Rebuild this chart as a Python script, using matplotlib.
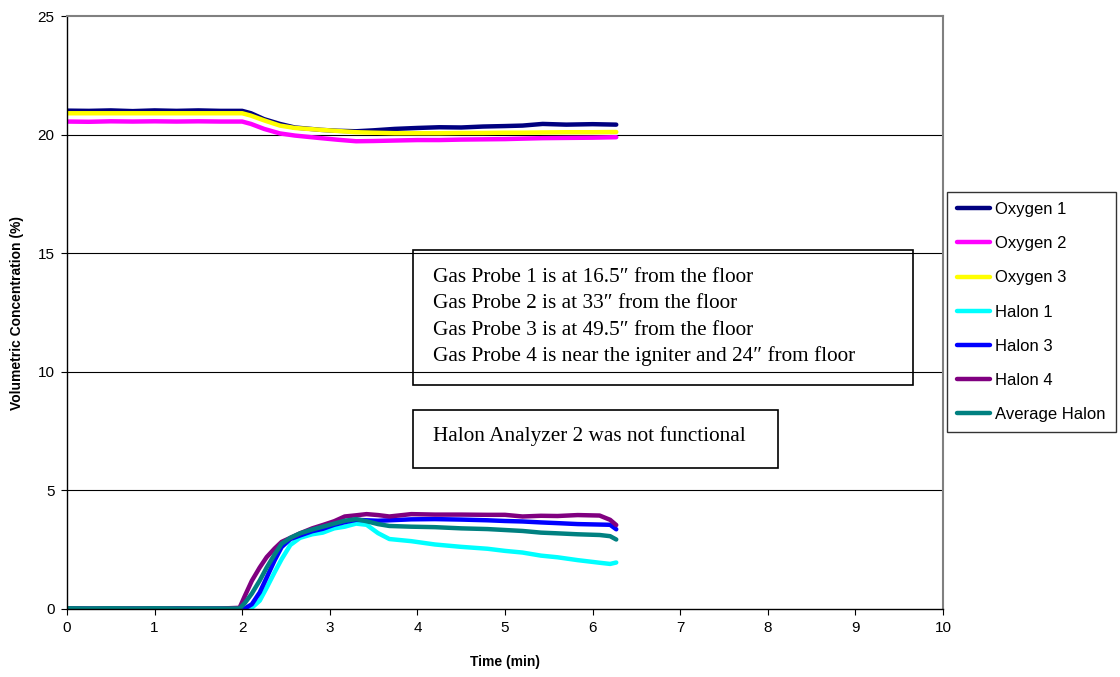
import matplotlib
matplotlib.use("Agg")
import matplotlib.pyplot as plt

# --- data (time in min, concentration in %) --------------------------------
t_o2 = [0.0, 0.25, 0.5, 0.75, 1.0, 1.25, 1.5, 1.75, 2.0, 2.1, 2.25, 2.43, 2.6,
        2.9, 3.1, 3.3, 3.5, 3.74, 4.0, 4.25, 4.5, 4.75, 5.0, 5.2, 5.43, 5.7,
        6.0, 6.27]
oxygen1 = [21.01, 21.0, 21.02, 20.99, 21.02, 21.0, 21.02, 21.0, 21.0, 20.9,
           20.65, 20.45, 20.3, 20.2, 20.16, 20.14, 20.18, 20.24, 20.28, 20.31,
           20.3, 20.34, 20.36, 20.38, 20.45, 20.42, 20.44, 20.42]
oxygen2 = [20.55, 20.54, 20.56, 20.55, 20.56, 20.55, 20.56, 20.55, 20.55,
           20.45, 20.24, 20.05, 19.96, 19.85, 19.78, 19.72, 19.73, 19.75, 19.77,
           19.77, 19.79, 19.8, 19.81, 19.83, 19.85, 19.86, 19.87, 19.89]
oxygen3 = [20.9, 20.9, 20.9, 20.9, 20.9, 20.9, 20.9, 20.9, 20.9, 20.8, 20.6,
           20.38, 20.28, 20.2, 20.15, 20.1, 20.08, 20.06, 20.06, 20.06, 20.07,
           20.07, 20.08, 20.08, 20.09, 20.1, 20.1, 20.11]

t_h = [0.0, 0.25, 0.5, 0.75, 1.0, 1.25, 1.5, 1.75, 1.97, 2.03, 2.11, 2.2,
       2.28, 2.37, 2.45, 2.55, 2.66, 2.8, 2.92, 3.05, 3.17, 3.3, 3.42, 3.55,
       3.68, 3.93, 4.2, 4.5, 4.8, 5.0, 5.2, 5.41, 5.6, 5.83, 6.08, 6.2, 6.27]
halon1 = [0.03, 0.02, 0.03, 0.02, 0.03, 0.02, 0.02, 0.02, 0.0, 0.0, 0.05,
          0.35, 0.9, 1.55, 2.1, 2.7, 3.0, 3.15, 3.22, 3.4, 3.47, 3.6, 3.55,
          3.2, 2.95, 2.86, 2.72, 2.62, 2.54, 2.45, 2.38, 2.25, 2.18, 2.06,
          1.95, 1.9, 1.96]
halon3 = [0.02, 0.0, -0.03, 0.01, -0.03, 0.02, 0.0, 0.01, 0.0, 0.02, 0.2,
          0.7, 1.33, 2.05, 2.61, 2.95, 3.1, 3.28, 3.38, 3.55, 3.66, 3.76, 3.74,
          3.72, 3.74, 3.78, 3.79, 3.77, 3.74, 3.71, 3.69, 3.65, 3.62, 3.58,
          3.56, 3.55, 3.36]
halon4 = [0.03, 0.02, 0.03, 0.02, 0.03, 0.02, 0.02, 0.02, 0.05, 0.55, 1.19,
          1.75, 2.19, 2.55, 2.83, 3.0, 3.19, 3.4, 3.54, 3.7, 3.9, 3.95, 4.0,
          3.96, 3.9, 4.0, 3.98, 3.98, 3.97, 3.97, 3.9, 3.93, 3.92, 3.96, 3.94,
          3.76, 3.54]
avg_halon = [0.03, 0.02, 0.03, 0.02, 0.03, 0.02, 0.02, 0.02, 0.02, 0.25, 0.65,
             1.2, 1.75, 2.3, 2.75, 3.0, 3.19, 3.35, 3.47, 3.6, 3.72, 3.79, 3.7,
             3.58, 3.5, 3.47, 3.45, 3.4, 3.37, 3.33, 3.29, 3.22, 3.19, 3.15,
             3.12, 3.07, 2.93]

series = [
    ("Oxygen 1", t_o2, oxygen1, "#000080"),
    ("Oxygen 2", t_o2, oxygen2, "#FF00FF"),
    ("Oxygen 3", t_o2, oxygen3, "#FFFF00"),
    ("Halon 1", t_h, halon1, "#00FFFF"),
    ("Halon 3", t_h, halon3, "#0000FF"),
    ("Halon 4", t_h, halon4, "#800080"),
    ("Average Halon", t_h, avg_halon, "#008080"),
]

probe_notes = ["Gas Probe 1 is at 16.5\u2033 from the floor",
               "Gas Probe 2 is at 33\u2033 from the floor",
               "Gas Probe 3 is at 49.5\u2033 from the floor",
               "Gas Probe 4 is near the igniter and 24\u2033 from floor"]
analyzer_note = "Halon Analyzer 2 was not functional"

# --- plot -------------------------------------------------------------------
plt.rcParams["font.family"] = ["Liberation Sans", "DejaVu Sans"]
W, H = 1120, 677

fig = plt.figure(figsize=(W / 100, H / 100), dpi=100)
ax = fig.add_axes([67 / W, 1 - 609 / H, (943 - 67) / W, (609 - 16) / H])

for label, t, y, color in series:
    ax.plot(t, y, color=color, lw=3.2, label=label, solid_capstyle="round")

ax.set_xlim(0, 10)
ax.set_ylim(0, 25)
ax.set_xticks(range(0, 11))
ax.set_yticks(range(0, 26, 5))
for v in (5, 10, 15, 20):
    ax.axhline(v, color="black", lw=0.8, zorder=0)

ax.spines["top"].set_color("#808080")
ax.spines["right"].set_color("#808080")
ax.spines["top"].set_linewidth(1.5)
ax.spines["right"].set_linewidth(1.5)
ax.spines["left"].set_linewidth(1.0)
ax.spines["bottom"].set_linewidth(1.0)
ax.tick_params(direction="out", length=4, labelsize=11, pad=5)

ax.set_xlabel("Time (min)", fontsize=10, fontweight="bold", labelpad=14)
ax.set_ylabel("Volumetric Concentration (%)", fontsize=10, fontweight="bold",
              labelpad=10)


def px(x, y):
    # figure pixel (from top-left) -> figure fraction
    return x / W, 1 - y / H


serif = ["Liberation Serif", "DejaVu Serif"]
for i, line in enumerate(probe_notes):
    fig.text(*px(433, 282 + 26.3 * i), line, family=serif, fontsize=15.3,
             va="baseline", ha="left")
fig.patches.append(plt.Rectangle(px(413, 385), 500 / W, 135 / H, fill=False,
                                 ec="black", lw=1.2,
                                 transform=fig.transFigure, figure=fig))
fig.text(*px(433, 441), analyzer_note, family=serif, fontsize=15.3,
         va="baseline", ha="left")
fig.patches.append(plt.Rectangle(px(413, 468), 365 / W, 58 / H, fill=False,
                                 ec="black", lw=1.2,
                                 transform=fig.transFigure, figure=fig))

leg = fig.legend(loc="upper left", bbox_to_anchor=px(947, 192),
                 frameon=True, fancybox=False, fontsize=12, handlelength=2.0,
                 handletextpad=0.3, labelspacing=1.15, borderpad=0.6,
                 borderaxespad=0)
leg.get_frame().set_edgecolor("black")
leg.get_frame().set_linewidth(1.0)

fig.savefig("out.png", dpi=100)
